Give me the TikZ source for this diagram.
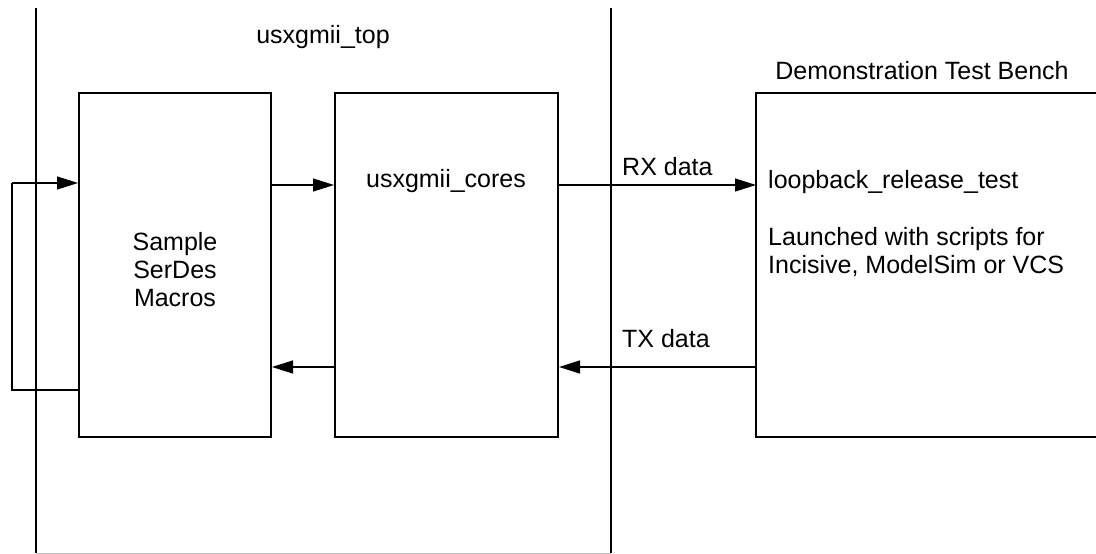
\documentclass[tikz,border=0pt]{standalone}
\usepackage{fontspec}
\setmainfont{Liberation Sans}
\usetikzlibrary{arrows.meta}

\newlength{\du}
\setlength{\du}{1pt}

\tikzset{
  blockbox/.style={draw, line width=2\du, inner sep=0pt, align=center},
  conn/.style={line width=1.3\du, -{Triangle[length=21pt,width=13pt]}},
  plainline/.style={line width=1.3\du},
  edgeline/.style={line width=2\du},
  lbl/.style={inner sep=0pt, anchor=base},
  lblw/.style={inner sep=0pt, anchor=base west},
}

\begin{document}
\begin{tikzpicture}[font=\fontsize{25}{28}\selectfont]
\pgftransformyscale{-1.000000}
\useasboundingbox (0\du,0\du) rectangle (1096\du,554\du);
% usxgmii_top frame, open at the top
\coordinate (topnw) at (36\du,8\du);
\coordinate (topsw) at (36\du,553\du);
\coordinate (topse) at (611\du,553\du);
\coordinate (topne) at (611\du,8\du);
\draw[edgeline] (topnw) -- (topsw);
\draw[edgeline] (topne) -- (topse);
\draw[line width=1\du, gray!50] (topsw) -- (topse);
\node[lbl] (toplabel) at (323\du,43\du) {usxgmii\_top};
% blocks
\node[blockbox, minimum width=192\du, minimum height=344\du] (serdes) at (175\du,265\du) {};
\node[inner sep=0pt, align=center] (serdeslabel) at (175\du,270\du) {Sample\\SerDes\\Macros};
\node[blockbox, minimum width=223\du, minimum height=344\du] (cores) at (446.5\du,265\du) {};
\node[lbl] (coreslabel) at (446\du,187\du) {usxgmii\_cores};
% test bench, open to the right
\coordinate (tbnw) at (756\du,93\du);
\coordinate (tbsw) at (756\du,437\du);
\coordinate (tbne) at (1100\du,93\du);
\coordinate (tbse) at (1100\du,437\du);
\draw[edgeline] (tbne) -- (tbnw) -- (tbsw) -- (tbse);
\node[lbl] (tblabel) at (922\du,79\du) {Demonstration Test Bench};
\node[lblw] (testname) at (768\du,188\du) {loopback\_release\_test};
\node[lblw] (launch1) at (768\du,245\du) {Launched with scripts for};
\node[lblw] (launch2) at (768\du,273\du) {Incisive, ModelSim or VCS};
% rows
\coordinate (looptop) at (12\du,183\du);
\coordinate (loopbot) at (12\du,390\du);
\coordinate (rx) at (0\du,185\du);
\coordinate (tx) at (0\du,367\du);
% loopback
\draw[plainline] (serdes.west |- loopbot) -- (loopbot) -- (looptop);
\draw[conn] (looptop) -- (serdes.west |- looptop);
% data paths
\draw[conn] (serdes.east |- rx) -- (cores.west |- rx);
\draw[conn] (cores.east |- rx) -- (tbnw |- rx);
\draw[conn] (tbnw |- tx) -- (cores.east |- tx);
\draw[conn] (cores.west |- tx) -- (serdes.east |- tx);
\node[lblw] (rxlabel) at (622\du,175\du) {RX data};
\node[lblw] (txlabel) at (622\du,347\du) {TX data};
\end{tikzpicture}
\end{document}
